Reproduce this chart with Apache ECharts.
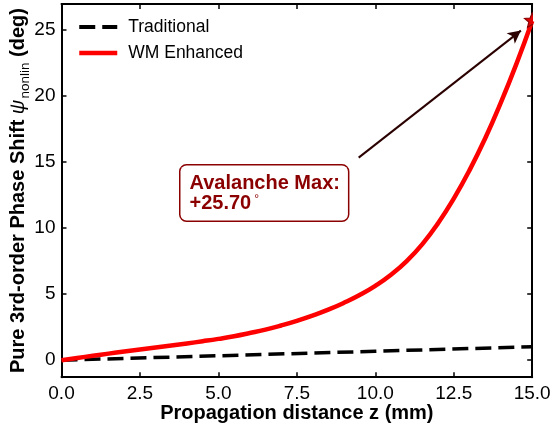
<!DOCTYPE html>
<html>
<head>
<meta charset="utf-8">
<script src="https://cdn.jsdelivr.net/npm/echarts@6/dist/echarts.min.js"></script>
<style>html,body{margin:0;padding:0;background:#fff}#c{width:554px;height:430px}</style>
</head>
<body>
<div id="c"></div>
<script>
// ---- data ----
var zValues = [0,0.5,1,1.5,2,2.5,3,3.5,4,4.5,5,5.5,6,6.5,7,7.5,8,8.5,9,9.5,10,10.5,11,11.5,12,12.5,13,13.5,14,14.5,15];
var wmValues = [0,0.17,0.34,0.5,0.66,0.81,0.96,1.11,1.27,1.44,1.62,1.82,2.06,2.32,2.63,2.98,3.38,3.83,4.35,4.94,5.64,6.48,7.51,8.8,10.38,12.24,14.38,16.8,19.51,22.47,25.7];
var tradZ = [0,5,10,15];
var tradValues = [0,0.34,0.68,1.02];
var peakPoint = [15, 25.7];
var arrowFrom = [9.47, 15.35];
var arrowTo = [14.64, 24.97];
var seriesNames = ['Traditional', 'WM Enhanced'];
var yTicks = [0,5,10,15,20,25];
var xLabelText = 'Propagation distance z (mm)';
var annotationLines = ['Avalanche Max:', '+25.70'];

var FONT = 'Liberation Sans';
function pairs(xs, ys){ return xs.map(function(x,i){ return [x, ys[i]]; }); }

var chart = echarts.init(document.getElementById('c'), null, {renderer:'canvas'});
var axisLineStyle = {color:'#000', width:2};
var tickStyle = {color:'#000', width:1.5};
var dashPattern = [16,7];

chart.setOption({
  animation:false,
  backgroundColor:'#fff',
  grid:{left:61.5, right:21.8, top:4, bottom:52.8, containLabel:false, outerBoundsMode:'none'},
  legend:{
    orient:'vertical', left:72, top:13, itemWidth:38, itemHeight:14, itemGap:8,
    itemStyle:{opacity:0},
    textStyle:{fontFamily:FONT, fontSize:17.5, color:'#000', padding:[0,0,0,6]},
    data:[
      {name:seriesNames[0], lineStyle:{color:'#000', width:4, type:dashPattern}},
      {name:seriesNames[1], lineStyle:{color:'#ff0000', width:4.5, type:'solid'}}
    ]
  },
  xAxis:[{
    type:'value', min:0, max:15, interval:2.5, position:'bottom',
    name:xLabelText, nameLocation:'middle', nameGap:26, nameMoveOverlap:false,
    nameTextStyle:{fontFamily:FONT, fontSize:20, fontWeight:'bold', color:'#000'},
    axisLine:{show:true, onZero:false, lineStyle:axisLineStyle},
    axisTick:{show:true, inside:true, length:5, lineStyle:tickStyle},
    axisLabel:{fontFamily:FONT, fontSize:19, color:'#000', margin:7, showMinLabel:true, showMaxLabel:true,
      formatter:function(v){ return v.toFixed(1); }},
    splitLine:{show:false}
  },{
    type:'value', min:0, max:15, interval:2.5, position:'top',
    axisLine:{show:true, onZero:false, lineStyle:axisLineStyle},
    axisTick:{show:true, inside:true, length:5, lineStyle:tickStyle},
    axisLabel:{show:false}, splitLine:{show:false}
  }],
  yAxis:[{
    type:'value', min:-1.285, max:26.985, position:'left',
    name:'{b|Pure 3rd-order Phase Shift }{i|ψ}{s|nonlin}{b| (deg)}',
    nameLocation:'middle', nameGap:33, nameRotate:90, nameMoveOverlap:false,
    nameTextStyle:{
      color:'#000',
      rich:{
        b:{fontFamily:FONT, fontSize:20, fontWeight:'bold', color:'#000', lineHeight:20, verticalAlign:'top'},
        i:{fontFamily:FONT, fontSize:20, fontStyle:'italic', color:'#000', lineHeight:20, verticalAlign:'top'},
        s:{fontFamily:FONT, fontSize:13.5, color:'#000', lineHeight:13, verticalAlign:'top', padding:[10,0,0,1]}
      }
    },
    axisLine:{show:true, onZero:false, lineStyle:axisLineStyle},
    axisTick:{show:true, inside:true, length:5, lineStyle:tickStyle, customValues:yTicks},
    axisLabel:{fontFamily:FONT, fontSize:19, color:'#000', margin:6, customValues:yTicks},
    splitLine:{show:false}
  },{
    type:'value', min:-1.285, max:26.985, position:'right',
    axisLine:{show:true, onZero:false, lineStyle:axisLineStyle},
    axisTick:{show:true, inside:true, length:5, lineStyle:tickStyle, customValues:yTicks},
    axisLabel:{show:false, customValues:yTicks}, splitLine:{show:false}
  }],
  series:[{
    name:seriesNames[0], type:'line', xAxisIndex:0, yAxisIndex:0,
    data:pairs(tradZ, tradValues), symbol:'none', showSymbol:false,
    lineStyle:{color:'#000', width:3.5, type:dashPattern, cap:'butt'},
    itemStyle:{color:'#000'}, z:2
  },{
    name:seriesNames[1], type:'line', xAxisIndex:0, yAxisIndex:0,
    data:pairs(zValues, wmValues), symbol:'none', showSymbol:false,
    smooth:0.5,
    lineStyle:{color:'#ff0000', width:4.5, join:'round'}, itemStyle:{color:'#ff0000'}, z:3,
    markLine:{
      silent:true, symbol:['none','arrow'], symbolSize:[10,13],
      label:{show:false},
      lineStyle:{color:'#2a0000', width:2, type:'solid'},
      emphasis:{disabled:true},
      data:[[{coord:arrowFrom},{coord:arrowTo}]]
    }
  },{
    name:'peak', type:'custom', xAxisIndex:0, yAxisIndex:0, clip:true, z:4,
    data:[peakPoint],
    renderItem:function(params, api){
      var c = api.coord([api.value(0), api.value(1)]);
      var r = 8, pts = [];
      for (var k=0;k<10;k++){
        var a = -Math.PI/2 + k*Math.PI/5;
        var rr = (k%2) ? r*0.45 : r;
        pts.push([c[0]+rr*Math.cos(a), c[1]+rr*Math.sin(a)]);
      }
      return {type:'polygon', shape:{points:pts}, style:{fill:'#e00000', stroke:'#8b0000', lineWidth:1.2}};
    }
  }],
  graphic:[{
    type:'text', left:179, top:164, z:100,
    style:{
      text:'{t|'+annotationLines[0]+'}\n{t|'+annotationLines[1]+'}{d|°}',
      rich:{
        t:{fontFamily:FONT, fontSize:20, fontWeight:'bold', fill:'#8b0000', lineHeight:20},
        d:{fontFamily:FONT, fontSize:12, fill:'#8b0000', lineHeight:12, verticalAlign:'top', padding:[0,0,0,3]}
      },
      backgroundColor:'#fff', borderColor:'#8b0000', borderWidth:1.5, borderRadius:6,
      padding:[8,8,7,9]
    }
  }]
});
</script>
</body>
</html>
